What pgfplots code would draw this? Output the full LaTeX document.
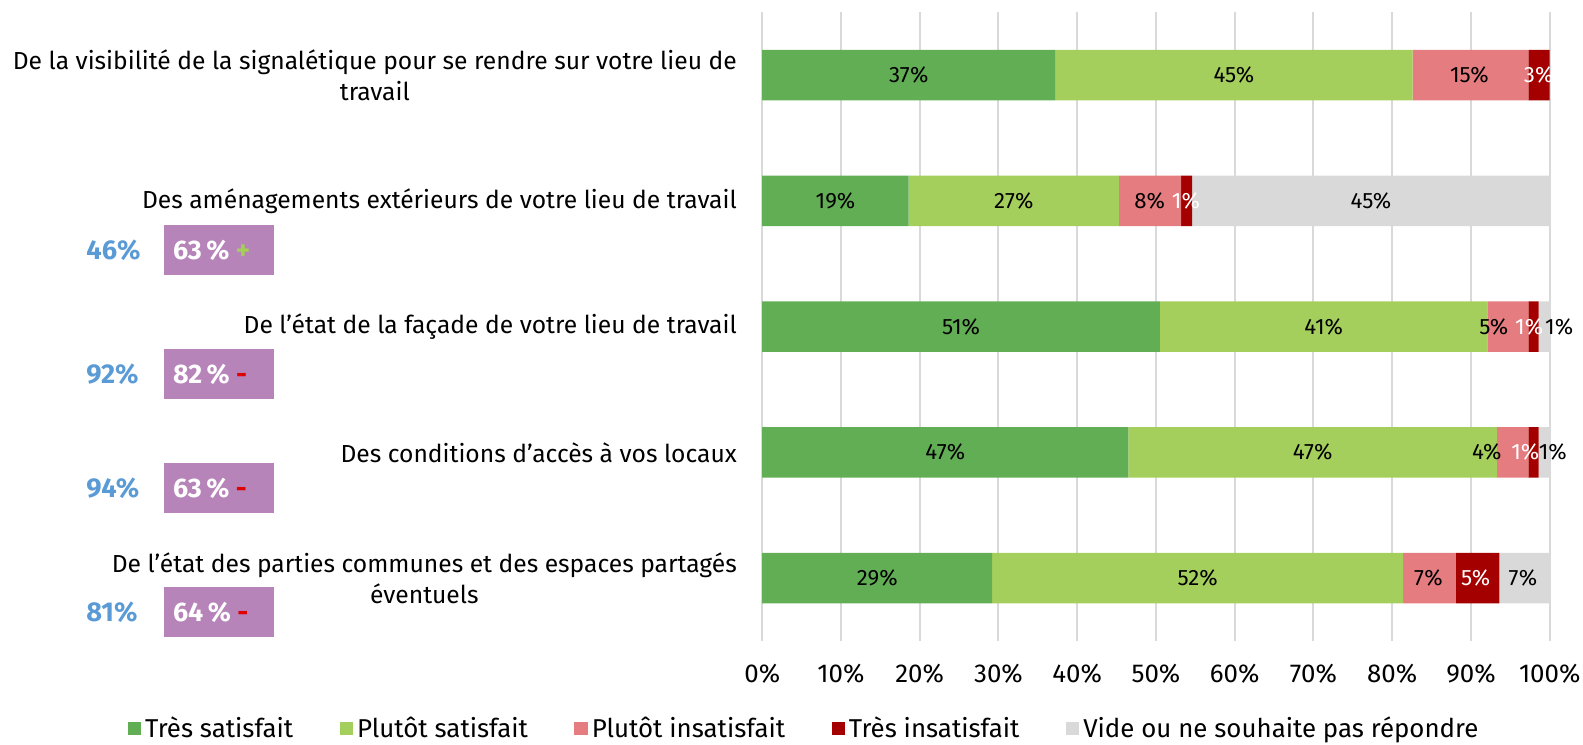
\documentclass[border=0pt]{standalone}
\usepackage{pgfplots}
\pgfplotsset{compat=1.18}
\usepackage{fontspec}
\setmainfont{Fira Sans}
\definecolor{c1}{HTML}{62AE55}
\definecolor{c2}{HTML}{A5CF5C}
\definecolor{c3}{HTML}{E57C80}
\definecolor{c4}{HTML}{A50000}
\definecolor{c5}{HTML}{D9D9D9}
\definecolor{gridc}{HTML}{D9D9D9}
\definecolor{blu}{HTML}{5B9BD5}
\definecolor{purp}{HTML}{B784BA}
\definecolor{plusg}{HTML}{A5CE5A}
\definecolor{minusr}{HTML}{E00000}
\begin{document}
\begin{tikzpicture}
\useasboundingbox (0,0) rectangle (784pt,-368.5pt);
\begin{axis}[
  at={(377.5pt,-6pt)}, anchor=north west,
  scale only axis, width=390pt, height=311.5pt,
  xbar stacked, bar width=25pt,
  xmin=0, xmax=100, ymin=-0.5, ymax=4.5, y dir=reverse,
  clip=false,
  /pgf/number format/assume math mode=true,
  xtick={0,10,...,100},
  xticklabel={\pgfmathprintnumber{\tick}\%},
  xticklabel style={font=\fontsize{12.8}{14}\selectfont, yshift=-8pt},
  ytick={0,1,2,3,4},
  yticklabels={{De la visibilité de la signalétique pour se rendre sur votre lieu de\\travail},
    {Des aménagements extérieurs de votre lieu de travail},
    {De l’état de la façade de votre lieu de travail},
    {Des conditions d’accès à vos locaux},
    {De l’état des parties communes et des espaces partagés\\éventuels}},
  yticklabel style={align=center, font=\fontsize{12.2}{15.5}\selectfont, inner sep=0pt, xshift=-12.4pt},
  tick style={draw=none},
  axis line style={draw=none},
  xmajorgrids, grid style={draw=gridc, line width=1pt},
  legend style={at={(0.0545,-0.139)}, anchor=center, draw=none, fill=none,
    legend columns=5, font=\fontsize{12.8}{14}\selectfont,
    /tikz/every even column/.append style={column sep=21pt}},
  legend image code/.code={\fill[#1] (0pt,-3.3pt) rectangle (6.6pt,3.3pt);},
]
\addplot[fill=c1, draw=none] coordinates {(37.2,0) (18.6,1) (50.5,2) (46.5,3) (29.2,4)};
\addplot[fill=c2, draw=none] coordinates {(45.4,0) (26.7,1) (41.6,2) (46.8,3) (52.2,4)};
\addplot[fill=c3, draw=none] coordinates {(14.7,0) (7.9,1) (5.2,2) (4.0,3) (6.7,4)};
\addplot[fill=c4, draw=none] coordinates {(2.7,0) (1.4,1) (1.3,2) (1.3,3) (5.5,4)};
\addplot[fill=c5, draw=none] coordinates {(0,0) (45.4,1) (1.4,2) (1.4,3) (6.4,4)};
\legend{Très satisfait, Plutôt satisfait, Plutôt insatisfait, Très insatisfait, Vide ou ne souhaite pas répondre}
\end{axis}
\begin{axis}[
  at={(377.5pt,-6pt)}, anchor=north west,
  scale only axis, width=390pt, height=311.5pt,
  xmin=0, xmax=100, ymin=-0.5, ymax=4.5, y dir=reverse,
  clip=false, axis lines=none,
  /pgf/number format/assume math mode=true,
]
\addplot[draw=none, mark=none, point meta=explicit,
  nodes near coords={\pgfmathprintnumber[fixed,precision=0]{\pgfplotspointmeta}\%},
  nodes near coords style={anchor=center, text=black, font=\fontsize{11}{12}\selectfont}] table[meta=v] {
x y v
18.6 0 37
59.9 0 45
89.8 0 15
9.3 1 19
31.95 1 27
49.2 1 8
77.3 1 45
25.25 2 51
71.3 2 41
92.9 2 5
101.2 2 1
23.25 3 47
69.9 3 47
92.0 3 4
100.4 3 1
14.6 4 29
55.3 4 52
84.6 4 7
96.6 4 7
};
\addplot[draw=none, mark=none, point meta=explicit,
  nodes near coords={\pgfmathprintnumber[fixed,precision=0]{\pgfplotspointmeta}\%},
  nodes near coords style={anchor=center, text=white, font=\fontsize{11}{12}\selectfont}] table[meta=v] {
x y v
98.6 0 3
53.8 1 1
97.4 2 1
96.9 3 1
90.6 4 5
};
\end{axis}
% badges
\begin{scope}[every node/.style={inner sep=0pt}]
\foreach \yc/\bl/\pv/\sg/\sc in {-124/46/63/+/plusg, -185.2/92/82/-/minusr, -241.7/94/63/-/minusr, -303.1/81/64/-/minusr} {
  \node[anchor=west, text=blu, font=\bfseries\fontsize{13.5}{15}\selectfont] at (42.6pt,\yc pt) {\bl\%};
  \fill[purp] (81.2pt,\yc pt+12.4pt) rectangle (135.7pt,\yc pt-12.4pt);
  \node[anchor=west, text=white, font=\bfseries\fontsize{13.3}{15}\selectfont] at (85.5pt,\yc pt) {\pv\,\% \textcolor{\sc}{\sg}};
}
\end{scope}
\end{tikzpicture}
\end{document}
